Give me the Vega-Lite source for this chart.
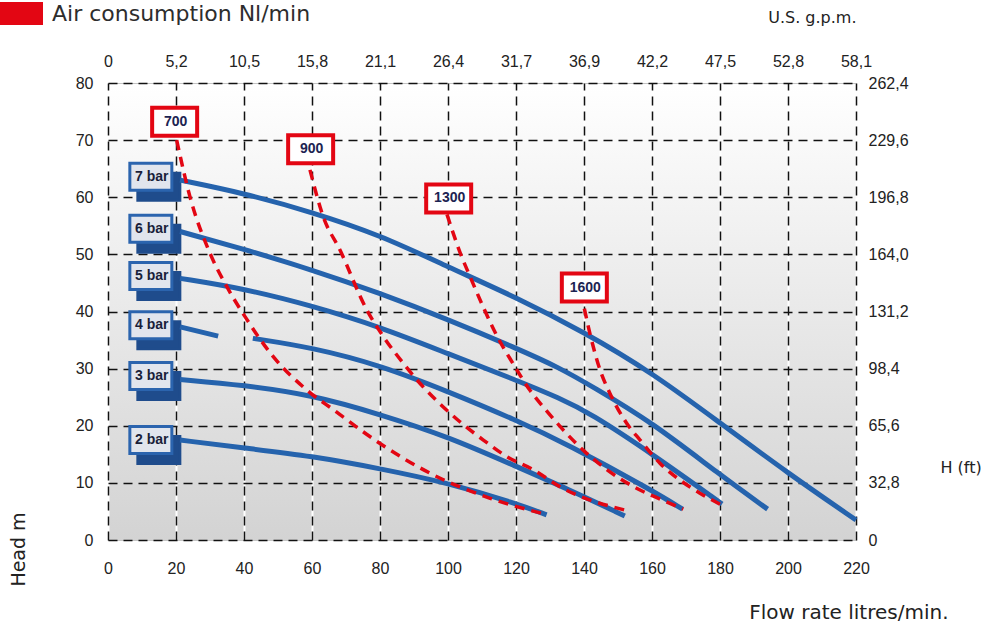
{
  "$schema": "https://vega.github.io/schema/vega-lite/v6.json",
  "width": 748,
  "height": 457,
  "autosize": {"type": "none"},
  "padding": {"left": 108, "top": 83, "right": 126, "bottom": 88},
  "background": "white",
  "config": {
    "view": {
      "fill": {"gradient": "linear", "x1": 0, "y1": 0, "x2": 0, "y2": 1,
        "stops": [{"offset": 0, "color": "#ffffff"}, {"offset": 1, "color": "#d3d3d3"}]},
      "stroke": "#c4c4c4",
      "strokeWidth": 1
    },
    "font": "Liberation Sans"
  },
  "datasets": {
    "curves": [
      {"seg": "7 bar", "q": 21.2, "h": 63.0}, {"seg": "7 bar", "q": 40, "h": 60.7}, {"seg": "7 bar", "q": 60, "h": 57.4}, {"seg": "7 bar", "q": 80, "h": 53.4}, {"seg": "7 bar", "q": 100, "h": 47.8}, {"seg": "7 bar", "q": 120, "h": 42.5}, {"seg": "7 bar", "q": 140, "h": 36.4}, {"seg": "7 bar", "q": 160, "h": 29.3}, {"seg": "7 bar", "q": 180, "h": 20.5}, {"seg": "7 bar", "q": 200, "h": 11.7}, {"seg": "7 bar", "q": 220, "h": 3.5},
      {"seg": "6 bar", "q": 21.2, "h": 54.0}, {"seg": "6 bar", "q": 40, "h": 50.9}, {"seg": "6 bar", "q": 60, "h": 47.3}, {"seg": "6 bar", "q": 80, "h": 43.2}, {"seg": "6 bar", "q": 100, "h": 38.6}, {"seg": "6 bar", "q": 120, "h": 33.6}, {"seg": "6 bar", "q": 133, "h": 30.1}, {"seg": "6 bar", "q": 142.6, "h": 26.8}, {"seg": "6 bar", "q": 160, "h": 20.6}, {"seg": "6 bar", "q": 180, "h": 11.4}, {"seg": "6 bar", "q": 194, "h": 5.4},
      {"seg": "5 bar", "q": 21.2, "h": 45.8}, {"seg": "5 bar", "q": 40, "h": 44.0}, {"seg": "5 bar", "q": 60, "h": 41.0}, {"seg": "5 bar", "q": 80, "h": 37.3}, {"seg": "5 bar", "q": 100, "h": 32.6}, {"seg": "5 bar", "q": 120, "h": 28.0}, {"seg": "5 bar", "q": 133, "h": 24.8}, {"seg": "5 bar", "q": 141.8, "h": 22.2}, {"seg": "5 bar", "q": 160, "h": 15.1}, {"seg": "5 bar", "q": 180.6, "h": 6.3},
      {"seg": "4 bar a", "q": 21.2, "h": 37.3}, {"seg": "4 bar a", "q": 32.4, "h": 35.7},
      {"seg": "4 bar b", "q": 42.6, "h": 35.3}, {"seg": "4 bar b", "q": 60, "h": 33.7}, {"seg": "4 bar b", "q": 80, "h": 30.6}, {"seg": "4 bar b", "q": 100, "h": 26.0}, {"seg": "4 bar b", "q": 120, "h": 21.0}, {"seg": "4 bar b", "q": 135, "h": 16.8}, {"seg": "4 bar b", "q": 160, "h": 8.7}, {"seg": "4 bar b", "q": 169, "h": 5.4},
      {"seg": "3 bar", "q": 21.2, "h": 28.1}, {"seg": "3 bar", "q": 40, "h": 27.1}, {"seg": "3 bar", "q": 60, "h": 25.4}, {"seg": "3 bar", "q": 80, "h": 22.0}, {"seg": "3 bar", "q": 100, "h": 18.1}, {"seg": "3 bar", "q": 120, "h": 12.9}, {"seg": "3 bar", "q": 135, "h": 9.0}, {"seg": "3 bar", "q": 152, "h": 4.2},
      {"seg": "2 bar", "q": 21.2, "h": 17.5}, {"seg": "2 bar", "q": 40, "h": 16.1}, {"seg": "2 bar", "q": 60, "h": 14.7}, {"seg": "2 bar", "q": 80, "h": 12.5}, {"seg": "2 bar", "q": 100, "h": 10.0}, {"seg": "2 bar", "q": 120, "h": 6.4}, {"seg": "2 bar", "q": 129, "h": 4.4}
    ],
    "air": [
      {"nl": "700", "q": 20.2, "h": 70.0}, {"nl": "700", "q": 24.1, "h": 60.1}, {"nl": "700", "q": 30, "h": 50.2}, {"nl": "700", "q": 35, "h": 44.3}, {"nl": "700", "q": 40.3, "h": 39.1}, {"nl": "700", "q": 48.6, "h": 32.1}, {"nl": "700", "q": 58.4, "h": 26.3}, {"nl": "700", "q": 66.3, "h": 22.8}, {"nl": "700", "q": 80, "h": 16.9}, {"nl": "700", "q": 94.7, "h": 11.7}, {"nl": "700", "q": 112.4, "h": 7.3}, {"nl": "700", "q": 128, "h": 4.6},
      {"nl": "900", "q": 59.4, "h": 64.8}, {"nl": "900", "q": 63.3, "h": 56.6}, {"nl": "900", "q": 68.2, "h": 50.8}, {"nl": "900", "q": 76.1, "h": 40.3}, {"nl": "900", "q": 81, "h": 35.6}, {"nl": "900", "q": 86.9, "h": 30.9}, {"nl": "900", "q": 92.7, "h": 26.8}, {"nl": "900", "q": 98.6, "h": 23.3}, {"nl": "900", "q": 103.5, "h": 20.7}, {"nl": "900", "q": 110.4, "h": 17.5}, {"nl": "900", "q": 117.3, "h": 14.6}, {"nl": "900", "q": 125.1, "h": 12.3}, {"nl": "900", "q": 133, "h": 9.3}, {"nl": "900", "q": 153, "h": 5.1},
      {"nl": "1300", "q": 99.7, "h": 57.0}, {"nl": "1300", "q": 103.5, "h": 50.4}, {"nl": "1300", "q": 107, "h": 45.4}, {"nl": "1300", "q": 110.5, "h": 40.6}, {"nl": "1300", "q": 114.5, "h": 35.6}, {"nl": "1300", "q": 119, "h": 31.0}, {"nl": "1300", "q": 124, "h": 26.3}, {"nl": "1300", "q": 129, "h": 22.6}, {"nl": "1300", "q": 134, "h": 19.2}, {"nl": "1300", "q": 140, "h": 15.6}, {"nl": "1300", "q": 147, "h": 12.2}, {"nl": "1300", "q": 155, "h": 9.2}, {"nl": "1300", "q": 163, "h": 7.0}, {"nl": "1300", "q": 169.2, "h": 5.4},
      {"nl": "1600", "q": 140.1, "h": 40.5}, {"nl": "1600", "q": 141.8, "h": 36.0}, {"nl": "1600", "q": 144.7, "h": 29.8}, {"nl": "1600", "q": 147.6, "h": 25.7}, {"nl": "1600", "q": 152.6, "h": 20.4}, {"nl": "1600", "q": 156.5, "h": 17.5}, {"nl": "1600", "q": 162.4, "h": 13.4}, {"nl": "1600", "q": 168.2, "h": 10.5}, {"nl": "1600", "q": 174.1, "h": 8.2}, {"nl": "1600", "q": 180.5, "h": 6.1}
    ],
    "barLabels": [
      {"bar": "7 bar", "q": 12.6, "h": 63.6},
      {"bar": "6 bar", "q": 12.6, "h": 54.5},
      {"bar": "5 bar", "q": 12.6, "h": 46.2},
      {"bar": "4 bar", "q": 12.6, "h": 37.6},
      {"bar": "3 bar", "q": 12.6, "h": 28.7},
      {"bar": "2 bar", "q": 12.6, "h": 17.5}
    ],
    "airLabels": [
      {"nl": "700", "q": 19.6, "h": 73.2},
      {"nl": "900", "q": 59.6, "h": 68.4},
      {"nl": "1300", "q": 100.2, "h": 59.8},
      {"nl": "1600", "q": 140.1, "h": 44.2}
    ]
  },
  "layer": [
    {
      "data": {"name": "barLabels"},
      "mark": {"type": "point", "shape": "M-1,-0.643H1V0.643H-1Z", "size": 1764, "filled": true, "fill": "#1f4c8c", "stroke": "#1f4c8c", "strokeWidth": 3, "opacity": 1, "xOffset": 8, "yOffset": 10},
      "encoding": {
        "x": {"field": "q", "type": "quantitative", "scale": {"domain": [0, 220], "nice": false}, "axis": null},
        "y": {"field": "h", "type": "quantitative", "scale": {"domain": [0, 80], "nice": false}, "axis": null}
      }
    },
    {
      "data": {"name": "barLabels"},
      "mark": {"type": "point", "shape": "M-1,-0.643H1V0.643H-1Z", "size": 1764, "filled": true, "fill": "#e1e5ed", "stroke": "#2b64ae", "strokeWidth": 3, "opacity": 1},
      "encoding": {
        "x": {"field": "q", "type": "quantitative", "scale": {"domain": [0, 220], "nice": false}, "axis": null},
        "y": {"field": "h", "type": "quantitative", "scale": {"domain": [0, 80], "nice": false}, "axis": null}
      }
    },
    {
      "data": {"name": "barLabels"},
      "mark": {"type": "text", "font": "Liberation Sans", "fontWeight": "bold", "fontSize": 14, "color": "#1a1f3a", "align": "center", "baseline": "middle", "dx": 1},
      "encoding": {
        "x": {"field": "q", "type": "quantitative", "scale": {"domain": [0, 220], "nice": false}, "axis": null},
        "y": {"field": "h", "type": "quantitative", "scale": {"domain": [0, 80], "nice": false}, "axis": null},
        "text": {"field": "bar"}
      }
    },
    {
      "data": {"name": "curves"},
      "mark": {"type": "line", "interpolate": "basis", "color": "#2563ad", "strokeWidth": 5, "strokeCap": "butt"},
      "encoding": {
        "x": {"field": "q", "type": "quantitative", "scale": {"domain": [0, 220], "nice": false},
          "axis": {"orient": "bottom", "values": [0, 20, 40, 60, 80, 100, 120, 140, 160, 180, 200, 220],
            "grid": true, "gridColor": "#ffffff", "gridWidth": 2, "gridOpacity": 1, "ticks": false, "domain": false,
            "labelFont": "Liberation Sans Narrow, Liberation Sans, sans-serif", "labelFontSize": 16, "labelColor": "#222222",
            "labelPadding": 20, "labelFlush": false, "labelOverlap": false,
            "title": "Flow rate litres/min.", "titleX": 840, "titleY": 72, "titleAlign": "right", "titleBaseline": "middle",
            "titleFont": "DejaVu Sans", "titleFontSize": 20, "titleFontWeight": "normal", "titleColor": "#222222"}},
        "y": {"field": "h", "type": "quantitative", "scale": {"domain": [0, 80], "nice": false},
          "axis": {"orient": "left", "values": [0, 10, 20, 30, 40, 50, 60, 70, 80],
            "grid": true, "gridColor": "#111111", "gridDash": [9, 6], "gridWidth": 1.5, "gridOpacity": 1, "ticks": false, "domain": false,
            "labelFont": "Liberation Sans Narrow, Liberation Sans, sans-serif", "labelFontSize": 16, "labelColor": "#222222",
            "labelPadding": 15, "labelFlush": false, "labelOverlap": false,
            "title": "Head m", "titleAngle": -90, "titleX": -90, "titleY": 466, "titleAlign": "center", "titleBaseline": "middle",
            "titleFont": "DejaVu Sans", "titleFontSize": 19, "titleFontWeight": "normal", "titleColor": "#222222"}},
        "detail": {"field": "seg"}
      }
    },
    {
      "data": {"name": "air"},
      "mark": {"type": "line", "interpolate": "monotone", "strokeWidth": 3.5, "strokeDash": [10, 7], "strokeCap": "butt"},
      "encoding": {
        "x": {"field": "q", "type": "quantitative", "scale": {"domain": [0, 220], "nice": false},
          "axis": {"orient": "top", "values": [0, 20, 40, 60, 80, 100, 120, 140, 160, 180, 200, 220],
            "grid": true, "gridColor": "#111111", "gridDash": [9, 6], "gridWidth": 1.5, "gridOpacity": 1, "ticks": false, "domain": false,
            "labelExpr": "['0','5,2','10,5','15,8','21,1','26,4','31,7','36,9','42,2','47,5','52,8','58,1'][round(datum.value/20)]",
            "labelFont": "Liberation Sans Narrow, Liberation Sans, sans-serif", "labelFontSize": 16, "labelColor": "#222222",
            "labelPadding": 14, "labelFlush": false, "labelOverlap": false,
            "title": "U.S. g.p.m.", "titleX": 748, "titleY": -66, "titleAlign": "right", "titleBaseline": "middle",
            "titleFont": "DejaVu Sans", "titleFontSize": 16, "titleFontWeight": "normal", "titleColor": "#222222"}},
        "y": {"field": "h", "type": "quantitative", "scale": {"domain": [0, 80], "nice": false},
          "axis": {"orient": "right", "values": [0, 10, 20, 30, 40, 50, 60, 70, 80],
            "grid": false, "ticks": false, "domain": false,
            "labelExpr": "['0','32,8','65,6','98,4','131,2','164,0','196,8','229,6','262,4'][round(datum.value/10)]",
            "labelFont": "Liberation Sans Narrow, Liberation Sans, sans-serif", "labelFontSize": 16, "labelColor": "#222222",
            "labelPadding": 12, "labelFlush": false, "labelOverlap": false,
            "title": "H (ft)", "titleAngle": 0, "titleX": 84, "titleY": 384, "titleAlign": "left", "titleBaseline": "middle",
            "titleFont": "DejaVu Sans", "titleFontSize": 16, "titleFontWeight": "normal", "titleColor": "#222222"}},
        "detail": {"field": "nl"},
        "color": {"datum": "Air consumption Nl/min", "scale": {"range": ["#e30613"]},
          "legend": {"orient": "none", "legendX": -108, "legendY": -91, "title": null, "padding": 0, "offset": 0,
            "symbolType": "M-1,-0.535H1V0.535H-1Z", "symbolSize": 1849, "symbolFillColor": "#e30613", "symbolStrokeWidth": 0,
            "labelFont": "DejaVu Sans", "labelFontSize": 22, "labelColor": "#2d2d2d", "labelOffset": 9, "labelLimit": 400,
            "encode": {"symbols": {"update": {"fill": {"value": "#e30613"}, "stroke": {"value": "transparent"}, "strokeDash": {"value": []}, "opacity": {"value": 1}}}}}}
      }
    },
    {
      "data": {"name": "airLabels"},
      "mark": {"type": "point", "shape": "M-1,-0.622H1V0.622H-1Z", "size": 2025, "filled": true, "fill": "#ffffff", "stroke": "#e30613", "strokeWidth": 4, "opacity": 1},
      "encoding": {
        "x": {"field": "q", "type": "quantitative", "scale": {"domain": [0, 220], "nice": false}, "axis": null},
        "y": {"field": "h", "type": "quantitative", "scale": {"domain": [0, 80], "nice": false}, "axis": null}
      }
    },
    {
      "data": {"name": "airLabels"},
      "mark": {"type": "text", "font": "Liberation Sans", "fontWeight": "bold", "fontSize": 14, "color": "#1c2452", "align": "center", "baseline": "middle", "dx": 1},
      "encoding": {
        "x": {"field": "q", "type": "quantitative", "scale": {"domain": [0, 220], "nice": false}, "axis": null},
        "y": {"field": "h", "type": "quantitative", "scale": {"domain": [0, 80], "nice": false}, "axis": null},
        "text": {"field": "nl"}
      }
    }
  ],
  "resolve": {"axis": {"x": "independent", "y": "independent"}}
}
